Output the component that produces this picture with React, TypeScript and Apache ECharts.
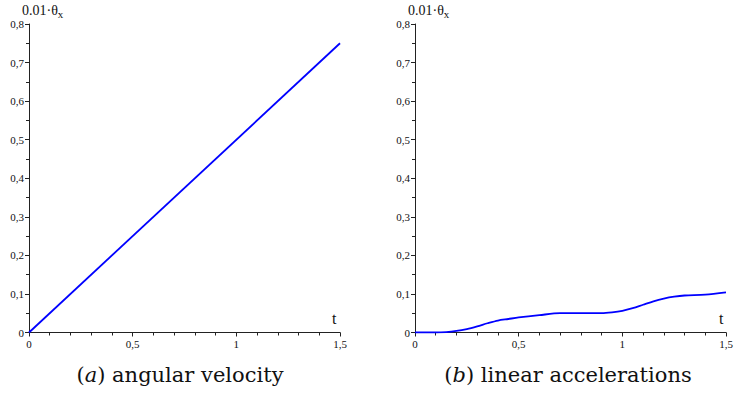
import React, { useEffect, useRef } from "react";
import * as echarts from "echarts";

const tLeft = [0, 1.5];
const vLeft = [0, 0.75];

const tRight = [0, 0.1, 0.15, 0.2, 0.25, 0.3, 0.35, 0.4, 0.45, 0.5, 0.6, 0.7, 0.8, 0.9, 0.95, 1.0, 1.05, 1.1, 1.15, 1.2, 1.25, 1.3, 1.4, 1.5];
const vRight = [0, 0, 0.001, 0.004, 0.009, 0.016, 0.024, 0.031, 0.035, 0.039, 0.045, 0.05, 0.05, 0.05, 0.052, 0.056, 0.063, 0.072, 0.081, 0.088, 0.093, 0.096, 0.098, 0.104];

const captions = ["angular velocity", "linear accelerations"];
const captionLetters = ["a", "b"];

const TICKF = "Liberation Serif";
const CAP = "DejaVu Serif";
const NAMEF = "Liberation Serif";

export default function App() {
  const ref = useRef<HTMLDivElement>(null);
  useEffect(() => {
    if (!ref.current) return;
    const chart = echarts.init(ref.current, undefined, { renderer: "svg" });
    const fmt = (v: number) => String(Math.round(v * 100) / 100).replace(".", ",");
    const lefts = [29, 415];
    const W = 311;
    const mkX = (i: number) => ({
      type: "value",
      gridIndex: i,
      min: 0,
      max: 1.5,
      interval: 0.5,
      axisLine: { show: true, lineStyle: { color: "#222", width: 1 } },
      axisTick: { show: true, length: 4, lineStyle: { color: "#222" } },
      minorTick: { show: true, splitNumber: 5, length: 3, lineStyle: { color: "#222" } },
      splitLine: { show: false },
      axisLabel: { formatter: fmt, fontFamily: TICKF, fontSize: 11, color: "#111", margin: 6 },
    });
    const mkY = (i: number) => ({
      type: "value",
      gridIndex: i,
      min: 0,
      max: 0.8,
      interval: 0.1,
      axisLine: { show: true, onZero: false, lineStyle: { color: "#222", width: 1 } },
      axisTick: { show: true, length: 4, lineStyle: { color: "#222" } },
      minorTick: { show: true, splitNumber: 2, length: 3, lineStyle: { color: "#222" } },
      splitLine: { show: false },
      axisLabel: { formatter: fmt, fontFamily: TICKF, fontSize: 11, color: "#111", margin: 5 },
    });
    const yName = (x: number) => ({
      type: "text",
      left: x,
      top: 3,
      style: {
        text: "{n|0.01\u00B7\u03B8}{s|x}",
        rich: {
          n: { fontFamily: NAMEF, fontSize: 14, fill: "#111" },
          s: { fontFamily: NAMEF, fontSize: 11, fill: "#111", padding: [7, 0, 0, 0] },
        },
      },
    });
    const tName = (x: number) => ({
      type: "text",
      left: x,
      top: 310,
      style: { text: "t", fontFamily: NAMEF, fontSize: 16, fill: "#111" },
    });
    const caption = (i: number, cx: number) => ({
      type: "text",
      x: cx,
      y: 375,
      style: {
        text: `{p|(}{i|${captionLetters[i]}}{p|) ${captions[i]}}`,
        align: "center",
        verticalAlign: "middle",
        rich: {
          p: { fontFamily: CAP, fontSize: 21, fill: "#111" },
          i: { fontFamily: CAP, fontSize: 21, fontStyle: "italic", fill: "#111" },
        },
      },
    });
    chart.setOption({
      animation: false,
      grid: lefts.map((l) => ({ left: l, top: 24, width: W, height: 308.5 })),
      xAxis: [mkX(0), mkX(1)],
      yAxis: [mkY(0), mkY(1)],
      series: [
        {
          type: "line",
          xAxisIndex: 0,
          yAxisIndex: 0,
          data: tLeft.map((t, k) => [t, vLeft[k]]),
          showSymbol: false,
          lineStyle: { color: "#0000ff", width: 1.8 },
        },
        {
          type: "line",
          xAxisIndex: 1,
          yAxisIndex: 1,
          data: tRight.map((t, k) => [t, vRight[k]]),
          showSymbol: false,
          smooth: 0.3,
          lineStyle: { color: "#0000ff", width: 1.8 },
        },
      ],
      graphic: [yName(22), yName(408), tName(332), tName(719), caption(0, 180), caption(1, 568)],
    });
    return () => chart.dispose();
  }, []);
  return (
    <div
      ref={ref}
      style={{ position: "fixed", left: 0, top: 0, width: 736, height: 399, background: "#fff" }}
    />
  );
}
